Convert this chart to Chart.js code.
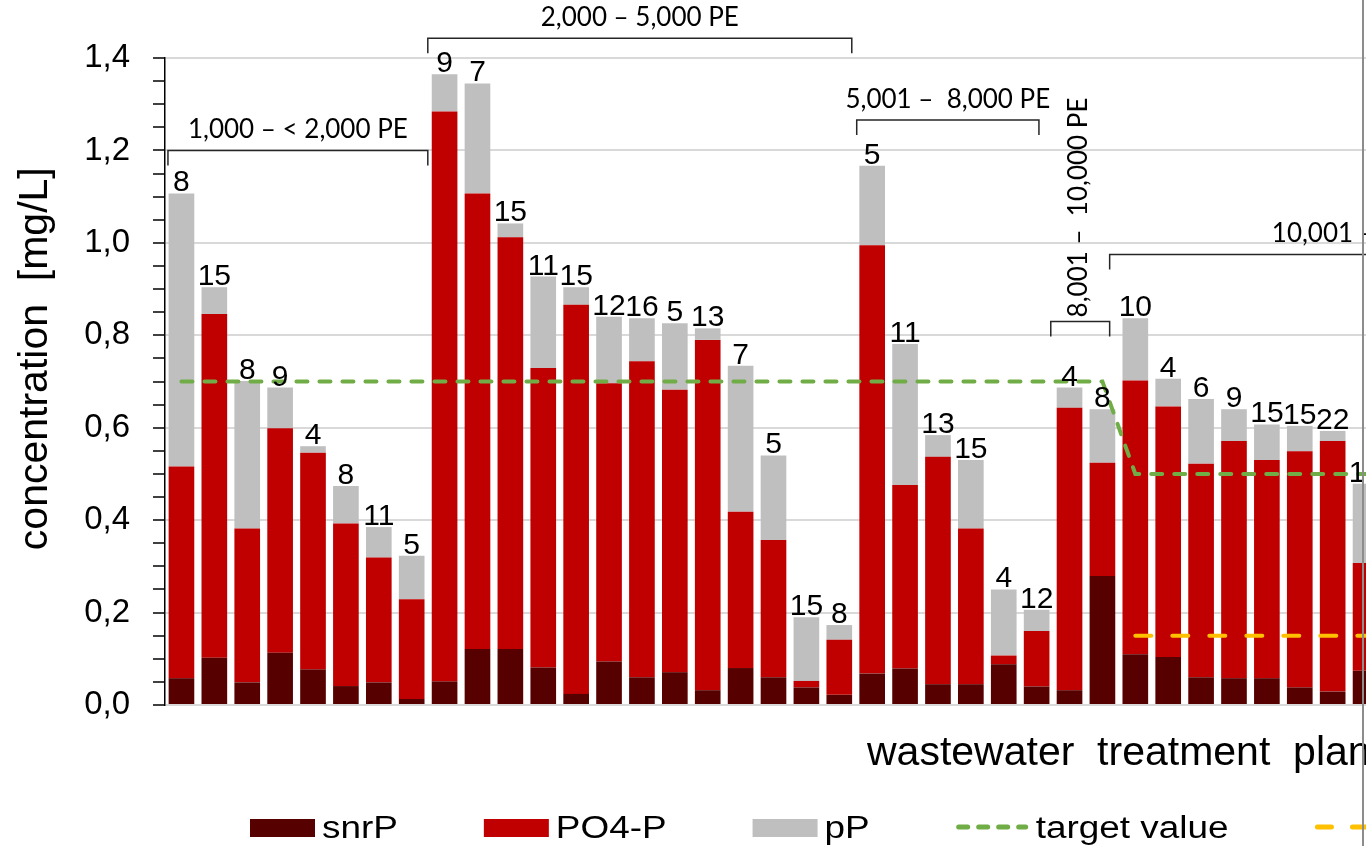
<!DOCTYPE html>
<html>
<head>
<meta charset="utf-8">
<title>Phosphorus fractions in WWTP effluent</title>
<script src="https://cdn.jsdelivr.net/npm/chart.js@4.4.1/dist/chart.umd.min.js"></script>
<style>
  html, body { margin: 0; padding: 0; background: #fff; overflow: hidden; width: 1366px; height: 846px; }
  #wrap { position: absolute; left: 0; top: 0; width: 1400px; height: 846px; }
  #edge { position: absolute; left: 1362px; top: 0; width: 2px; height: 846px; background: #8c8c8c; }
</style>
</head>
<body>
<div id="wrap"><canvas id="myChart"></canvas></div>
<div id="edge"></div>
<script>
// one bar per wastewater treatment plant, left to right
plants = ['P1', 'P2', 'P3', 'P4', 'P5', 'P6', 'P7', 'P8', 'P9', 'P10',
  'P11', 'P12', 'P13', 'P14', 'P15', 'P16', 'P17', 'P18', 'P19', 'P20',
  'P21', 'P22', 'P23', 'P24', 'P25', 'P26', 'P27', 'P28', 'P29', 'P30',
  'P31', 'P32', 'P33', 'P34', 'P35', 'P36', 'P37'];

// stacked fractions [mg/L]
snrP = [0.058, 0.102, 0.049, 0.113, 0.077, 0.041, 0.049, 0.013, 0.051, 0.121,
  0.121, 0.081, 0.024, 0.094, 0.060, 0.071, 0.032, 0.080, 0.060, 0.038,
  0.022, 0.068, 0.079, 0.045, 0.045, 0.088, 0.040, 0.032, 0.279, 0.110,
  0.104, 0.060, 0.058, 0.058, 0.038, 0.029, 0.074];
po4P = [0.458, 0.744, 0.333, 0.486, 0.469, 0.352, 0.270, 0.216, 1.233, 0.986,
  0.891, 0.648, 0.842, 0.602, 0.684, 0.611, 0.758, 0.338, 0.297, 0.014,
  0.119, 0.927, 0.397, 0.492, 0.337, 0.019, 0.120, 0.611, 0.245, 0.592,
  0.542, 0.462, 0.513, 0.472, 0.511, 0.542, 0.233];
pP = [0.591, 0.058, 0.319, 0.088, 0.014, 0.081, 0.066, 0.094, 0.081, 0.238,
  0.030, 0.198, 0.038, 0.144, 0.093, 0.144, 0.025, 0.316, 0.183, 0.138,
  0.032, 0.172, 0.305, 0.047, 0.148, 0.143, 0.046, 0.044, 0.116, 0.135,
  0.060, 0.140, 0.069, 0.077, 0.055, 0.022, 0.172];

// number written above each bar
samples = [8, 15, 8, 9, 4, 8, 11, 5, 9, 7,
  15, 11, 15, 12, 16, 5, 13, 7, 5, 15,
  8, 5, 11, 13, 15, 4, 12, 4, 8, 10,
  4, 6, 9, 15, 15, 22, 12];

targetValue = [0.7, 0.7, 0.7, 0.7, 0.7, 0.7, 0.7, 0.7, 0.7, 0.7,
  0.7, 0.7, 0.7, 0.7, 0.7, 0.7, 0.7, 0.7, 0.7, 0.7,
  0.7, 0.7, 0.7, 0.7, 0.7, 0.7, 0.7, 0.7, 0.7, 0.5,
  0.5, 0.5, 0.5, 0.5, 0.5, 0.5, 0.5];
limitValue = [null, null, null, null, null, null, null, null, null, null,
  null, null, null, null, null, null, null, null, null, null,
  null, null, null, null, null, null, null, null, null, 0.15,
  0.15, 0.15, 0.15, 0.15, 0.15, 0.15, 0.15];

// size classes: bracket from / to (category index), height in mg/L
sizeGroups = [
  {text: '1,000 – < 2,000 PE', from: -0.41, to: 7.49, level: 1.2},
  {text: '2,000 – 5,000 PE', from: 7.49, to: 20.38, level: 1.443},
  {text: '5,001 –  8,000 PE', from: 20.53, to: 26.07, level: 1.266},
  {text: '8,001 –  10,000 PE', from: 26.43, to: 28.22, level: 0.83, vertical: true},
  {text: '10,001 –', from: 28.22, to: 45, level: 0.975, labelAt: 33.15}
];

Chart.defaults.font.family = '"Liberation Sans", Arial, sans-serif';
Chart.defaults.color = '#000';

function isMajor(v) {
  return Math.round(v * 100) % 20 === 0;
}

// sample counts above the bars
const sampleLabels = {
  id: 'sampleLabels',
  afterDatasetsDraw(chart) {
    const ctx = chart.ctx;
    const meta = chart.getDatasetMeta(2);
    const ys = chart.scales.y;
    ctx.save();
    ctx.font = '30px "Liberation Sans", Arial, sans-serif';
    ctx.fillStyle = '#000';
    ctx.textAlign = 'center';
    ctx.textBaseline = 'alphabetic';
    for (i = 0; i < samples.length; i++) {
      total = snrP[i] + po4P[i] + pP[i];
      ctx.fillText(samples[i], meta.data[i].x, ys.getPixelForValue(total) - 2);
    }
    ctx.restore();
  }
};

// brackets for the size classes
const sizeBrackets = {
  id: 'sizeBrackets',
  afterDraw(chart) {
    const ctx = chart.ctx;
    const xs = chart.scales.x;
    const ys = chart.scales.y;
    ctx.save();
    ctx.strokeStyle = '#262626';
    ctx.lineWidth = 1.5;
    ctx.fillStyle = '#000';
    ctx.font = '26px Lato, "Open Sans", sans-serif';
    sizeGroups.forEach(g => {
      x1 = xs.getPixelForValue(g.from);
      x2 = xs.getPixelForValue(g.to);
      yy = ys.getPixelForValue(g.level);
      ctx.beginPath();
      ctx.moveTo(x1, yy + 15);
      ctx.lineTo(x1, yy);
      ctx.lineTo(x2, yy);
      ctx.lineTo(x2, yy + 15);
      ctx.stroke();
      if (g.vertical) {
        ctx.save();
        ctx.translate((x1 + x2) / 2 - 2, yy - 4);
        ctx.rotate(-Math.PI / 2);
        ctx.textAlign = 'left';
        ctx.textBaseline = 'middle';
        ctx.fillText(g.text, 0, 0);
        ctx.restore();
      } else if (g.labelAt !== undefined) {
        ctx.textAlign = 'left';
        ctx.textBaseline = 'alphabetic';
        ctx.fillText(g.text, xs.getPixelForValue(g.labelAt), yy - 12);
      } else {
        ctx.textAlign = 'center';
        ctx.textBaseline = 'alphabetic';
        ctx.fillText(g.text, (x1 + x2) / 2, yy - 12);
      }
    });
    ctx.restore();
  }
};

// legend row under the axis title
const bottomLegend = {
  id: 'bottomLegend',
  afterDraw(chart) {
    const ctx = chart.ctx;
    let x = chart.chartArea.left + 85;
    const yc = 828;
    ctx.save();
    ctx.font = '31px "Liberation Sans", Arial, sans-serif';
    chart.data.datasets.forEach(ds => {
      let w;
      if (ds.type === 'line') {
        w = 73;
        ctx.strokeStyle = ds.borderColor;
        ctx.lineWidth = 5;
        ctx.lineCap = 'round';
        ctx.setLineDash(ds.legendDash);
        ctx.beginPath();
        ctx.moveTo(x + 3, yc - 1);
        ctx.lineTo(x + w - 3, yc - 1);
        ctx.stroke();
        ctx.setLineDash([]);
      } else {
        w = 65;
        ctx.fillStyle = ds.backgroundColor;
        ctx.fillRect(x, yc - 9, w, 18);
      }
      x += w + 7;
      ctx.save();
      ctx.translate(x, 838);
      ctx.scale(1.19, 1);
      ctx.fillStyle = '#000';
      ctx.textBaseline = 'alphabetic';
      ctx.fillText(ds.label, 0, 0);
      ctx.restore();
      x += ctx.measureText(ds.label).width * 1.19 + 86;
    });
    ctx.restore();
  }
};

const data = {
  labels: plants,
  datasets: [
    {label: 'snrP', data: snrP, backgroundColor: '#560000', stack: 'p', order: 1},
    {label: 'PO4-P', data: po4P, backgroundColor: '#c00000', stack: 'p', order: 1},
    {label: 'pP', data: pP, backgroundColor: '#bfbfbf', stack: 'p', order: 1},
    {
      type: 'line', label: 'target value', data: targetValue,
      borderColor: '#70ad47', borderWidth: 4, borderDash: [11, 12], borderCapStyle: 'round',
      pointRadius: 0, fill: false, stack: 'target', order: 0, legendDash: [9, 11]
    },
    {
      type: 'line', label: 'limit value', data: limitValue,
      borderColor: '#ffc000', borderWidth: 4, borderDash: [16, 21], borderCapStyle: 'round',
      pointRadius: 0, fill: false, stack: 'limit', order: 0, legendDash: [14, 21]
    }
  ]
};

const config = {
  type: 'bar',
  data: data,
  options: {
    responsive: true,
    maintainAspectRatio: false,
    animation: false,
    layout: {padding: {top: 58, right: 18, left: 0, bottom: 0}},
    datasets: {bar: {barPercentage: 0.78, categoryPercentage: 1}},
    plugins: {
      legend: {display: false},
      tooltip: {enabled: false}
    },
    scales: {
      x: {
        stacked: true,
        grid: {display: false},
        ticks: {display: false},
        border: {display: false},
        title: {
          display: true, text: 'wastewater  treatment  plant', align: 'end',
          font: {size: 41}, padding: {top: 0, bottom: 68}
        },
        afterFit: s => { s.height = 141; }
      },
      y: {
        stacked: true,
        min: 0,
        max: 1.4,
        ticks: {
          stepSize: 0.05,
          maxTicksLimit: 40,
          autoSkip: false,
          padding: 23,
          font: {size: 33},
          callback: v => isMajor(v) ? v.toFixed(1).replace('.', ',') : ''
        },
        grid: {
          color: c => (c.tick && isMajor(c.tick.value)) ? '#d9d9d9' : 'rgba(0,0,0,0)',
          lineWidth: 2,
          tickColor: '#000',
          tickLength: 12,
          tickWidth: 1.5
        },
        border: {display: true, color: '#000', width: 1.5},
        title: {
          display: true, text: '    concentration  [mg/L]',
          font: {size: 41}, padding: {top: 11, bottom: 0}
        },
        afterFit: s => { s.width = 165; }
      }
    }
  },
  plugins: [sampleLabels, sizeBrackets, bottomLegend]
};

const myChart = new Chart(document.getElementById('myChart'), config);
</script>
</body>
</html>
